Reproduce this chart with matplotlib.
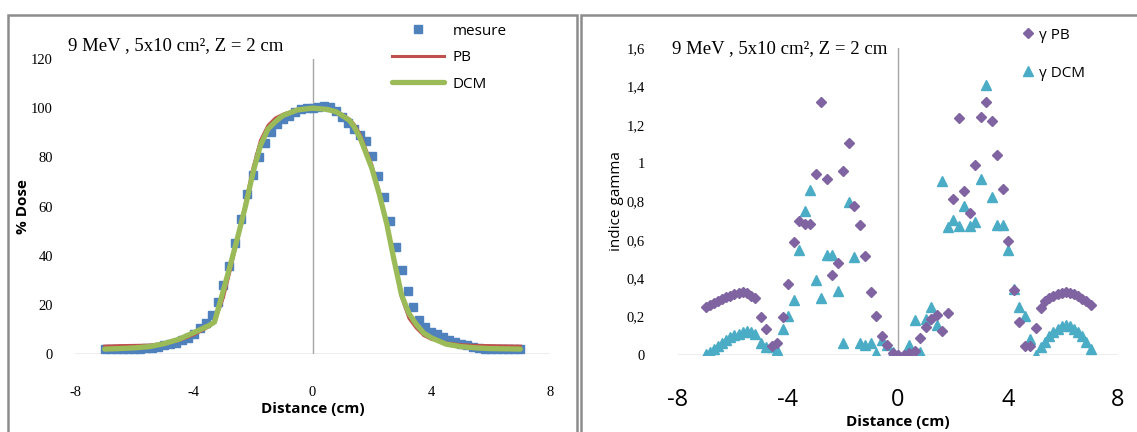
import matplotlib.pyplot as plt
from matplotlib.patches import Rectangle

plt.rcParams['axes.unicode_minus'] = False

# ---- left chart: dose profiles ----
mes_x = [-7.0, -6.8, -6.6, -6.4, -6.2, -6.0, -5.8, -5.6, -5.4, -5.2, -5.0, -4.8, -4.6, -4.4, -4.2,
         -4.0, -3.8, -3.6, -3.4, -3.2, -3.0, -2.8, -2.6, -2.4, -2.2, -2.0, -1.8, -1.6, -1.4, -1.2,
         -1.0, -0.8, -0.6, -0.4, -0.2, 0.0, 0.2, 0.4, 0.6, 0.8, 1.0, 1.2, 1.4, 1.6, 1.8,
         2.0, 2.2, 2.4, 2.6, 2.8, 3.0, 3.2, 3.4, 3.6, 3.8, 4.0, 4.2, 4.4, 4.6, 4.8,
         5.0, 5.2, 5.4, 5.6, 5.8, 6.0, 6.2, 6.4, 6.6, 6.8, 7.0]
mes_y = [2.0, 2.0, 2.0, 2.0, 2.0, 2.0, 2.0, 2.5, 2.5, 3.0, 3.5, 4.0, 4.5, 5.5, 6.5,
         8.0, 10.5, 12.5, 16.0, 21.0, 28.0, 36.0, 45.0, 55.0, 65.0, 73.0, 80.0, 86.0, 90.5, 93.5,
         95.5, 97.0, 98.5, 99.5, 100.0, 100.0, 100.5, 101.0, 100.5, 99.0, 96.5, 94.0, 91.5, 89.0, 86.5,
         80.5, 72.5, 64.0, 54.0, 43.5, 34.0, 25.5, 19.0, 14.0, 11.0, 9.0, 8.0, 7.0, 5.5, 5.0,
         4.0, 3.5, 3.0, 2.5, 2.0, 2.0, 2.0, 2.0, 2.0, 2.0, 2.0]

calc_x = [-7, -6.5, -6, -5.5, -5, -4.5, -4, -3.5, -3.3, -3, -2.75, -2.5, -2.25, -2, -1.75, -1.5,
          -1.25, -1, -0.5, 0, 0.5, 0.8, 1.0, 1.25, 1.4, 1.6, 2.0, 2.25, 2.5, 2.75, 3.0, 3.25,
          3.5, 3.75, 4, 4.5, 5, 5.5, 6, 6.5, 7]
pb_y = [3.2, 3.4, 3.5, 3.6, 4.2, 5.5, 7.8, 11.0, 13.0, 23.0, 35.0, 48.0, 62.0, 76.0, 87.0, 93.0,
        96.0, 97.5, 99.5, 100.0, 99.5, 98.5, 97.5, 95.5, 93.5, 89.5, 77.0, 66.0, 53.0, 38.0, 23.0, 14.5,
        10.5, 7.5, 6.0, 4.5, 3.8, 3.5, 3.4, 3.3, 3.2]
dcm_y = [2.0, 2.2, 2.5, 3.0, 4.2, 6.0, 8.7, 11.5, 13.0, 26.0, 37.0, 48.5, 60.5, 74.0, 85.0, 91.5,
         94.5, 97.0, 99.3, 100.0, 99.5, 98.5, 97.0, 95.0, 92.5, 88.0, 75.5, 65.0, 53.0, 38.0, 24.0, 16.5,
         12.0, 8.5, 6.6, 4.0, 3.0, 2.5, 2.2, 2.1, 2.0]

# ---- right chart: gamma index ----
g_x = [-7.0, -6.85, -6.7, -6.55, -6.4, -6.25, -6.1, -5.95, -5.8, -5.65, -5.5, -5.35, -5.2,
       -5.0, -4.8, -4.6, -4.4, -4.2, -4.0, -3.8, -3.6, -3.4, -3.2, -3.0, -2.8, -2.6, -2.4, -2.2,
       -2.0, -1.8, -1.6, -1.4, -1.2, -1.0, -0.8, -0.6, -0.4, -0.2, 0.0, 0.2, 0.4, 0.6, 0.8,
       1.0, 1.2, 1.4, 1.6, 1.8, 2.0, 2.2, 2.4, 2.6, 2.8, 3.0, 3.2, 3.4, 3.6, 3.8,
       4.0, 4.2, 4.4, 4.6, 4.8, 5.0,
       5.2, 5.35, 5.5, 5.65, 5.8, 5.95, 6.1, 6.25, 6.4, 6.55, 6.7, 6.85, 7.0]
g_pb = [0.25, 0.26, 0.27, 0.28, 0.29, 0.30, 0.31, 0.318, 0.323, 0.326, 0.322, 0.31, 0.295,
        0.199, 0.133, 0.047, 0.064, 0.199, 0.369, 0.589, 0.70, 0.684, 0.684, 0.944, 1.316, 0.918, 0.416, 0.48,
        0.961, 1.103, 0.774, 0.677, 0.516, 0.329, 0.204, 0.099, 0.052, 0.012, 0.0, 0.0, 0.009, 0.02, 0.087,
        0.147, 0.19, 0.208, 0.126, 0.217, 0.814, 1.234, 0.857, 0.741, 0.99, 1.242, 1.316, 1.221, 1.043, 0.866,
        0.592, 0.341, 0.173, 0.047, 0.047, 0.139,
        0.243, 0.28, 0.295, 0.307, 0.316, 0.322, 0.328, 0.325, 0.317, 0.305, 0.293, 0.28, 0.26]
g_dcm = [0.005, 0.015, 0.03, 0.045, 0.06, 0.078, 0.092, 0.104, 0.112, 0.12, 0.124, 0.122, 0.11,
         0.064, 0.04, 0.04, 0.026, 0.133, 0.203, 0.286, 0.549, 0.753, 0.861, 0.39, 0.298, 0.519, 0.519, 0.333,
         0.064, 0.80, 0.511, 0.064, 0.052, 0.064, 0.012, 0.078, 0.052, 0.017, 0.0, 0.0, 0.052, 0.182, 0.017,
         0.19, 0.251, 0.156, 0.909, 0.667, 0.705, 0.67, 0.774, 0.67, 0.692, 0.918, 1.408, 0.822, 0.68, 0.68,
         0.549, 0.346, 0.251, 0.203, 0.081, 0.0,
         0.04, 0.07, 0.10, 0.122, 0.138, 0.15, 0.155, 0.15, 0.138, 0.12, 0.10, 0.07, 0.03]

annot = "9 MeV , 5x10 cm², Z = 2 cm"
frame = "#8c8c8c"
axis_c = "#a6a6a6"
serif = "Liberation Serif"
sans = "Open Sans"

fig = plt.figure(figsize=(11.37, 4.32), dpi=100)

# panel frames
fig.patches.append(Rectangle((8 / 1137, -0.1), 569 / 1137, 1.1 - 15 / 432, transform=fig.transFigure,
                             fill=False, edgecolor=frame, lw=1.8))
fig.patches.append(Rectangle((581 / 1137, -0.1), 0.6, 1.1 - 15 / 432, transform=fig.transFigure,
                             fill=False, edgecolor=frame, lw=1.8))

# left chart
ax1 = fig.add_axes([75 / 1137, 1 - 354 / 432, 475 / 1137, 295 / 432])
h_mes, = ax1.plot(mes_x, mes_y, 's', color="#4F81BD", markersize=5.8, label="mesure", zorder=2)
h_pb, = ax1.plot(calc_x, pb_y, color="#C0504D", lw=2.2, label="PB", zorder=3)
h_dcm, = ax1.plot(calc_x, dcm_y, color="#9BBB59", lw=3.8, label="DCM", zorder=4, solid_capstyle='round')
ax1.set_xlim(-8, 8)
ax1.set_ylim(0, 120)
ax1.set_xticks([-8, -4, 0, 4, 8])
ax1.set_yticks(range(0, 121, 20))
ax1.axhline(0, color=axis_c, lw=1, zorder=1)
ax1.axvline(0, color=axis_c, lw=1, zorder=1)
for s in ax1.spines.values():
    s.set_visible(False)
ax1.tick_params(length=0, labelsize=10.5, labelfontfamily=serif)
ax1.tick_params(axis='x', pad=23)
ax1.tick_params(axis='y', pad=16)
ax1.set_xlabel("Distance (cm)", fontweight='bold', fontsize=11, family=sans, labelpad=2)
ax1.set_ylabel("% Dose", fontweight='bold', fontsize=11, family=sans, labelpad=1)
ax1.text(68 / 1137, 1 - 46 / 432, annot, transform=fig.transFigure, family=serif, fontsize=13.5,
         va='center', ha='left')
fig.legend(handles=[h_mes, h_pb, h_dcm], loc='upper left', bbox_to_anchor=(378 / 1137, 1 - 10 / 432),
           frameon=False, prop={'family': sans, 'size': 11}, handlelength=3.4, labelspacing=0.75,
           handletextpad=0.6)

# right chart
ax2 = fig.add_axes([678 / 1137, 1 - 355 / 432, 440 / 1137, 307 / 432])
h_gpb, = ax2.plot(g_x, g_pb, 'D', color="#8064A2", markersize=4.8, label="γ PB", zorder=3)
h_gdcm, = ax2.plot(g_x, g_dcm, '^', color="#4BACC6", markersize=7.5, label="γ DCM", zorder=2)
ax2.set_xlim(-8, 8)
ax2.set_ylim(0, 1.6)
ax2.set_xticks([-8, -4, 0, 4, 8])
yt = [0, 0.2, 0.4, 0.6, 0.8, 1.0, 1.2, 1.4, 1.6]
ax2.set_yticks(yt)
ax2.set_yticklabels(["0" if v == 0 else ("1" if v == 1 else f"{v:.1f}".replace(".", ",")) for v in yt])
ax2.axhline(0, color=axis_c, lw=1, zorder=1)
ax2.axvline(0, color=axis_c, lw=1, zorder=1)
for s in ax2.spines.values():
    s.set_visible(False)
ax2.tick_params(length=0)
ax2.tick_params(axis='y', labelsize=10.5, labelfontfamily=serif, pad=24)
ax2.tick_params(axis='x', labelsize=17, labelfontfamily=sans, pad=24)
ax2.set_xlabel("Distance (cm)", fontweight='bold', fontsize=11, family=sans, labelpad=2)
ax2.set_ylabel("indice gamma", fontsize=11, family=sans, labelpad=2)
ax2.text(672 / 1137, 1 - 49 / 432, annot, transform=fig.transFigure, family=serif, fontsize=13.5,
         va='center', ha='left')
fig.legend(handles=[h_gpb, h_gdcm], loc='upper left', bbox_to_anchor=(1008 / 1137, 1 - 14 / 432),
           frameon=False, prop={'family': sans, 'size': 11}, handlelength=0.8, labelspacing=1.5,
           handletextpad=0.3)

fig.savefig("out.png", dpi=100)
